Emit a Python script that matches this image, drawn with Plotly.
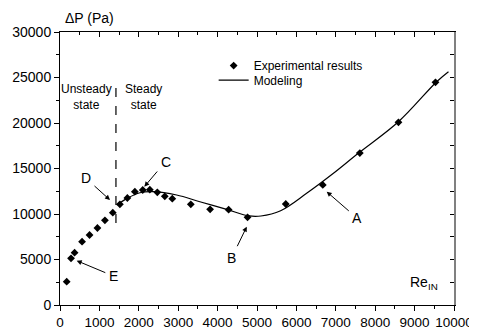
import plotly.graph_objects as go

# experimental points (Re_IN, dP in Pa)
re_exp = [170, 280, 370, 560, 750, 950, 1140, 1340, 1520, 1710, 1900, 2100, 2280,
          2470, 2660, 2850, 3320, 3810, 4280, 4760, 5730, 6670, 7610, 8590, 9530]
dp_exp = [2560, 5130, 5750, 6960, 7690, 8460, 9300, 10150, 11060, 11760, 12450, 12640, 12670,
          12380, 11940, 11680, 11060, 10510, 10480, 9630, 11100, 13190, 16700, 20070, 24470]

# model curve
re_mod = [1440, 1700, 2030, 2370, 2960, 3550, 4230, 4800, 5100, 5600, 6260, 6940, 7570, 8590, 9560, 9860]
dp_mod = [10990, 11720, 12340, 12450, 12090, 11350, 10510, 9790, 9780, 10360, 12270, 14470, 16670, 20140, 24540, 25640]

RE_STEADY = 1420            # unsteady / steady boundary
# callouts: label, text position, arrow tip (data coords)
callouts = [("A", (7546, 9527), (6769, 12451)),
            ("B", (4358, 5198), (4739, 8604)),
            ("C", (2683, 15769), (2140, 13000)),
            ("D", (660, 13923), (1269, 11538)),
            ("E", (1353, 3187), (424, 4868))]

FONT = "Liberation Sans, Arial, sans-serif"

fig = go.Figure()
fig.add_trace(go.Scatter(x=re_exp, y=dp_exp, mode="markers", name="Experimental results",
                         legend="legend",
                         marker=dict(symbol="diamond", size=6, color="black")))
fig.add_trace(go.Scatter(x=re_mod, y=dp_mod, mode="lines", name="Modeling", legend="legend2",
                         line=dict(color="black", width=1.2, shape="spline", smoothing=1.0)))
# invisible copy so the mirrored top/right axes get drawn
fig.add_trace(go.Scatter(x=re_exp, y=dp_exp, xaxis="x2", yaxis="y2", mode="markers",
                         marker=dict(opacity=0), showlegend=False, hoverinfo="skip"))

fig.add_shape(type="line", x0=RE_STEADY, x1=RE_STEADY, y0=9000, y1=23900,
              line=dict(color="black", width=1.2, dash="dash"))

for lab, (tx, ty), (hx, hy) in callouts:
    fig.add_annotation(x=hx, y=hy, ax=tx, ay=ty, axref="x", ayref="y", text=lab,
                       showarrow=True, arrowhead=2, arrowsize=1, arrowwidth=1,
                       arrowcolor="black", standoff=0, borderpad=3,
                       font=dict(size=14, color="black"))

fig.add_annotation(x=680, y=22900, text="Unsteady<br>state", showarrow=False,
                   font=dict(size=12, color="black"))
fig.add_annotation(x=2130, y=22900, text="Steady<br>state", showarrow=False,
                   font=dict(size=12, color="black"))
fig.add_annotation(x=0.0076, y=1.051, xref="paper", yref="paper", xanchor="left",
                   yanchor="middle", text="ΔP (Pa)", showarrow=False,
                   font=dict(size=14, color="black"))
fig.add_annotation(x=0.964, y=0.08, xref="paper", yref="paper", xanchor="right",
                   yanchor="middle", text="Re<sub>IN</sub>", showarrow=False,
                   font=dict(size=14, color="black"))

ax_common = dict(showgrid=False, zeroline=False, linecolor="black", linewidth=1,
                 tickcolor="black", ticklen=5, tickwidth=1, automargin=False)
leg_common = dict(xanchor="left", yanchor="middle", bgcolor="rgba(0,0,0,0)",
                  font=dict(size=12), borderwidth=0)
# the page body adds an 8px offset, so the plot area is shifted up/left by 8px
fig.update_layout(
    width=477, height=324, margin=dict(l=52, r=31, t=24, b=27),
    paper_bgcolor="white", plot_bgcolor="white",
    font=dict(family=FONT, color="black", size=14),
    showlegend=True,
    legend=dict(x=0.39, y=0.877, **leg_common),
    legend2=dict(x=0.39, y=0.824, **leg_common),
    xaxis=dict(range=[0, 10000], dtick=1000, ticks="outside", showline=True, tickformat="d",
               minor=dict(dtick=500, ticks="outside", ticklen=3, tickcolor="black"),
               tickfont=dict(size=13.5), **ax_common),
    yaxis=dict(range=[0, 30000], dtick=5000, ticks="outside", showline=True, tickformat="d",
               minor=dict(dtick=2500, ticks="outside", ticklen=3, tickcolor="black"),
               tickfont=dict(size=14), **ax_common),
    xaxis2=dict(overlaying="x", anchor="y2", side="top", range=[0, 10000], dtick=1000,
                ticks="inside", showticklabels=False, showline=True,
                minor=dict(dtick=500, ticks="inside", ticklen=3, tickcolor="black"),
                **ax_common),
    yaxis2=dict(overlaying="y", anchor="x2", side="right", range=[0, 30000], dtick=2500,
                ticks="inside", showticklabels=False, showline=True, showgrid=False,
                zeroline=False, linecolor="#808080", linewidth=2, tickcolor="black",
                ticklen=4, automargin=False),
)
fig.write_html("out.html")
